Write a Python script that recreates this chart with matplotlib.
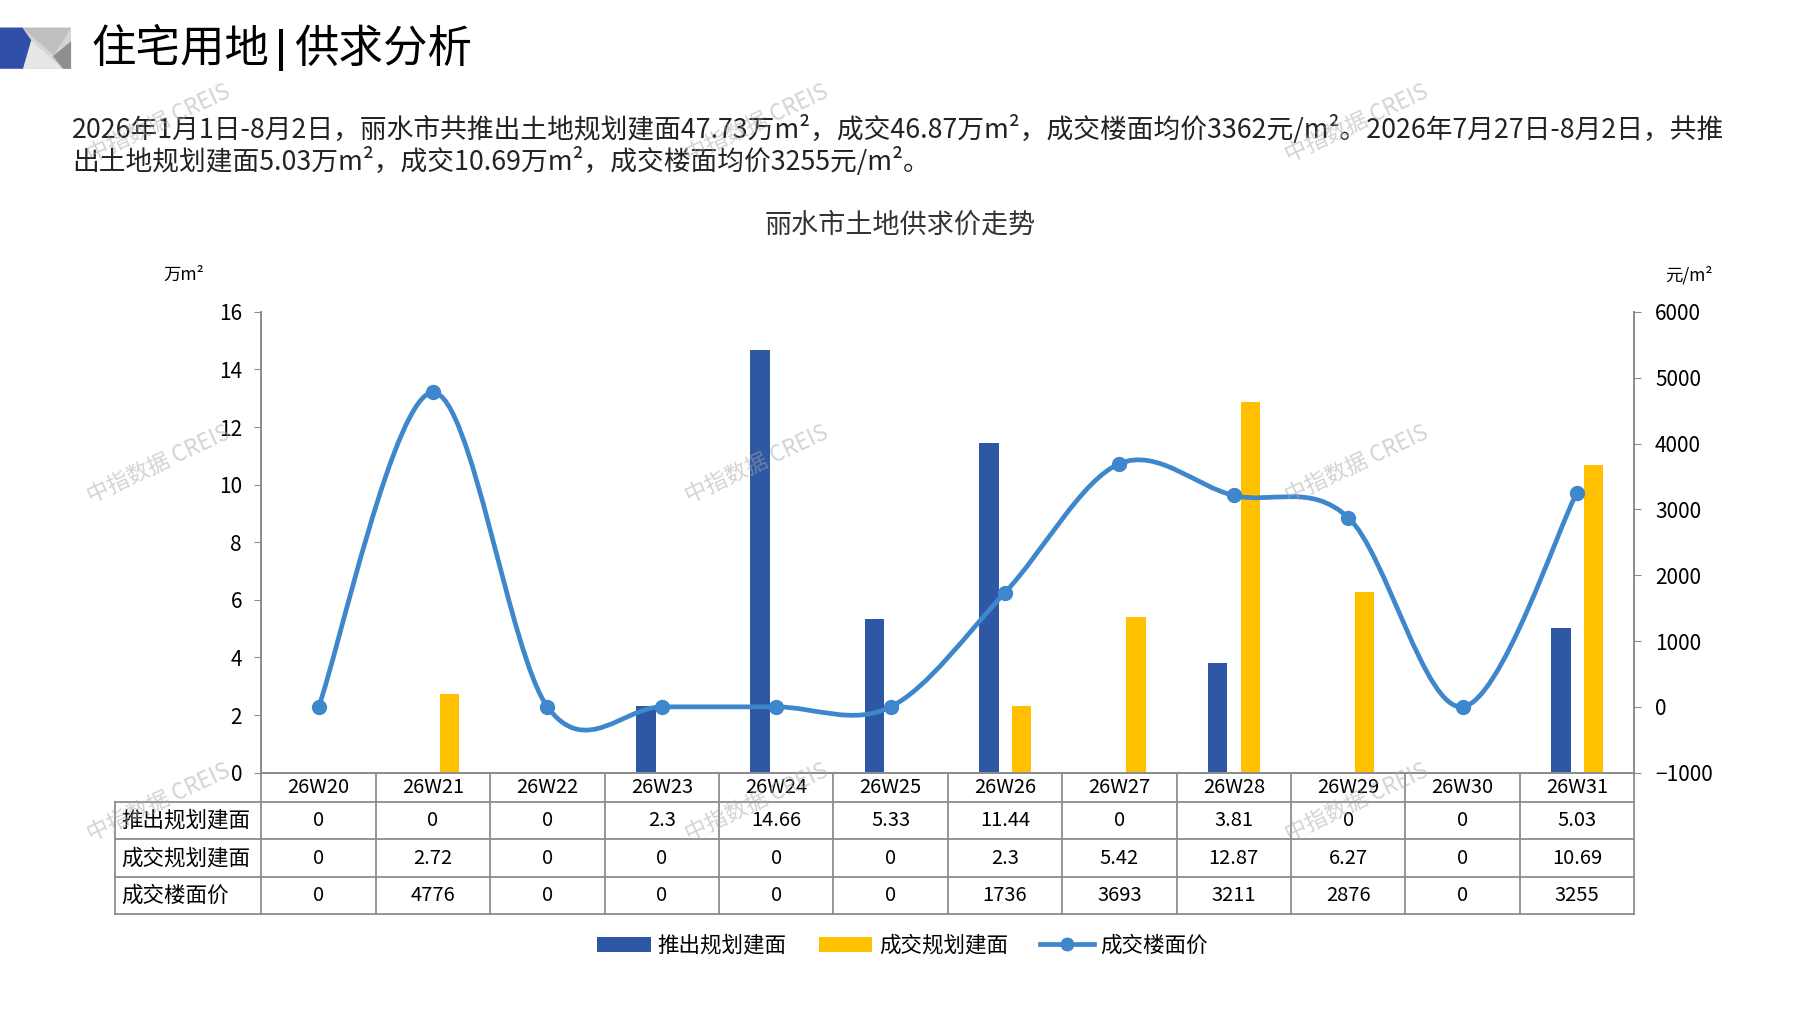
import numpy as np
import matplotlib
matplotlib.use('Agg')
import matplotlib.pyplot as plt
import matplotlib.transforms as mtransforms
from matplotlib.path import Path
from matplotlib.patches import PathPatch, Patch, Polygon
from matplotlib.lines import Line2D

plt.rcParams['font.family'] = ['Noto Sans CJK SC', 'DejaVu Sans']

# data
weeks = ['26W20', '26W21', '26W22', '26W23', '26W24', '26W25',
         '26W26', '26W27', '26W28', '26W29', '26W30', '26W31']
supply = [0, 0, 0, 2.3, 14.66, 5.33, 11.44, 0, 3.81, 0, 0, 5.03]
deal = [0, 2.72, 0, 0, 0, 0, 2.3, 5.42, 12.87, 6.27, 0, 10.69]
price = [0, 4776, 0, 0, 0, 0, 1736, 3693, 3211, 2876, 0, 3255]
row_names = ['推出规划建面', '成交规划建面', '成交楼面价']
left_ticks = list(range(0, 17, 2))
right_ticks = list(range(-1000, 6001, 1000))

BLUE = '#2E57A4'
GOLD = '#FFC000'
LINE = '#3E87CC'
GREY = '#8C8C8C'

# layout measured on the reference (pixel grid of the preview)
W, H = 1567.0, 881.0


def fx(x):
    return x / W


def fy(y):
    return 1 - y / H


fig = plt.figure(figsize=(17.97, 10.10), dpi=100)

# logo block
def poly(pts, color):
    fig.patches.append(Polygon([(fx(a), fy(b)) for a, b in pts], closed=True,
                               transform=fig.transFigure, facecolor=color,
                               edgecolor='none'))

poly([(19, 24), (62, 24), (62, 60), (19, 60)], '#D4D4D4')
poly([(19, 24), (62, 24), (47, 48)], '#BFBFBF')
poly([(27, 35), (20, 60), (55, 60)], '#E6E6E6')
poly([(46, 49), (62, 36), (62, 60), (55, 60)], '#8F8F8F')
poly([(0, 24), (19.5, 24), (27.2, 35), (20, 60), (0, 60)], '#2F4FA8')

# title with a heavy divider bar
fig.text(fx(80), fy(43), '住宅用地', fontsize=32, va='center', ha='left')
poly([(243, 25), (247, 25), (247, 62), (243, 62)], 'black')
fig.text(fx(256), fy(43), '供求分析', fontsize=32, va='center', ha='left')

para1 = ('2026年1月1日-8月2日，丽水市共推出土地规划建面47.73万m²，成交46.87万m²，'
         '成交楼面均价3362元/m²。2026年7月27日-8月2日，共推')
para2 = '出土地规划建面5.03万m²，成交10.69万m²，成交楼面均价3255元/m²。'
fig.text(fx(63), fy(113), para1, fontsize=19.25, va='center', ha='left', color='#222222')
fig.text(fx(63), fy(141), para2, fontsize=19.25, va='center', ha='left', color='#222222')

fig.text(fx(785), fy(196), '丽水市土地供求价走势', fontsize=19.5, ha='center', va='center',
         color='#333333')
fig.text(fx(160), fy(240), '万m²', fontsize=12.5, ha='center', va='center')
fig.text(fx(1473), fy(240), '元/m²', fontsize=12.5, ha='center', va='center')

ax1 = fig.add_axes([fx(228), fy(674), fx(1425) - fx(228), fy(272) - fy(674)])
ax2 = ax1.twinx()

x = np.arange(len(weeks))
ax1.bar(x - 0.14, supply, width=0.17, color=BLUE, zorder=2)
ax1.bar(x + 0.145, deal, width=0.17, color=GOLD, zorder=2)
ax1.set_xlim(-0.5, len(weeks) - 0.5)
ax1.set_ylim(0, 16)
ax2.set_ylim(-1000, 6000)
ax1.set_yticks(left_ticks)
ax2.set_yticks(right_ticks)
ax1.set_xticks([])

for a in (ax1, ax2):
    a.spines['top'].set_visible(False)
    for side in ('left', 'right', 'bottom'):
        a.spines[side].set_color(GREY)
        a.spines[side].set_linewidth(1.3)
    a.patch.set_visible(False)
ax1.tick_params(axis='y', length=5, color=GREY, labelsize=15, pad=9)
ax2.tick_params(axis='y', length=5, color=GREY, labelsize=15, pad=10)

# Excel-style smoothed line: cubic Bezier through the points, tangents (p[i+1]-p[i-1])/6
yp = np.array(price, dtype=float)
n = len(yp)
verts = [(x[0], yp[0])]
codes = [Path.MOVETO]
for i in range(n - 1):
    y_prev = yp[i - 1] if i > 0 else yp[i]
    y_next2 = yp[i + 2] if i + 2 < n else yp[i + 1]
    x_prev = x[i - 1] if i > 0 else x[i]
    x_next2 = x[i + 2] if i + 2 < n else x[i + 1]
    c1 = (x[i] + (x[i + 1] - x_prev) / 6, yp[i] + (yp[i + 1] - y_prev) / 6)
    c2 = (x[i + 1] - (x_next2 - x[i]) / 6, yp[i + 1] - (y_next2 - yp[i]) / 6)
    verts += [c1, c2, (x[i + 1], yp[i + 1])]
    codes += [Path.CURVE4] * 3
ax2.add_patch(PathPatch(Path(verts, codes), facecolor='none', edgecolor=LINE,
                        lw=3.4, capstyle='round', joinstyle='round', zorder=3))
ax2.plot(x, yp, 'o', color=LINE, ms=10, zorder=4)

# data table under the axes
trans = mtransforms.blended_transform_factory(ax1.transData, ax1.transAxes)
h_ax = 674 - 272
rows_y = [0, -(700 - 674) / h_ax, -(732 - 674) / h_ax, -(765 - 674) / h_ax, -(797 - 674) / h_ax]
x_left = -0.5 - 128 / 99.75
x_right = len(weeks) - 0.5
lk = dict(transform=trans, clip_on=False, color=GREY, lw=1.3)
for yy in rows_y[1:]:
    ax1.plot([x_left, x_right], [yy, yy], **lk)
for k in range(len(weeks) + 1):
    ax1.plot([k - 0.5, k - 0.5], [0, rows_y[-1]], **lk)
ax1.plot([x_left, x_left], [rows_y[1], rows_y[-1]], **lk)

tk = dict(transform=trans, clip_on=False, ha='center', va='center', fontsize=14.5)
for i, w in enumerate(weeks):
    ax1.text(i, (rows_y[0] + rows_y[1]) / 2, w, **tk)
    ax1.text(i, (rows_y[1] + rows_y[2]) / 2, f'{supply[i]:g}', **tk)
    ax1.text(i, (rows_y[2] + rows_y[3]) / 2, f'{deal[i]:g}', **tk)
    ax1.text(i, (rows_y[3] + rows_y[4]) / 2, f'{price[i]:d}', **tk)
for r, name in enumerate(row_names):
    ax1.text(x_left + 0.06, (rows_y[r + 1] + rows_y[r + 2]) / 2, name, transform=trans,
             clip_on=False, ha='left', va='center', fontsize=15.5)

handles = [Patch(facecolor=BLUE), Patch(facecolor=GOLD),
           Line2D([], [], color=LINE, lw=3.4, marker='o', ms=9)]
fig.legend(handles, row_names, loc='center', bbox_to_anchor=(fx(787), fy(825)), ncol=3,
           frameon=False, fontsize=15.5, handlelength=2.5, columnspacing=1.5,
           handletextpad=0.3)

# watermarks
for wx in (138, 660, 1183):
    for wy in (108, 405, 700):
        fig.text(fx(wx), fy(wy), '中指数据 CREIS', fontsize=16, rotation=25,
                 ha='center', va='center', color='#A8A8A8', alpha=0.5, zorder=10)

fig.savefig('out.png', dpi=100)
